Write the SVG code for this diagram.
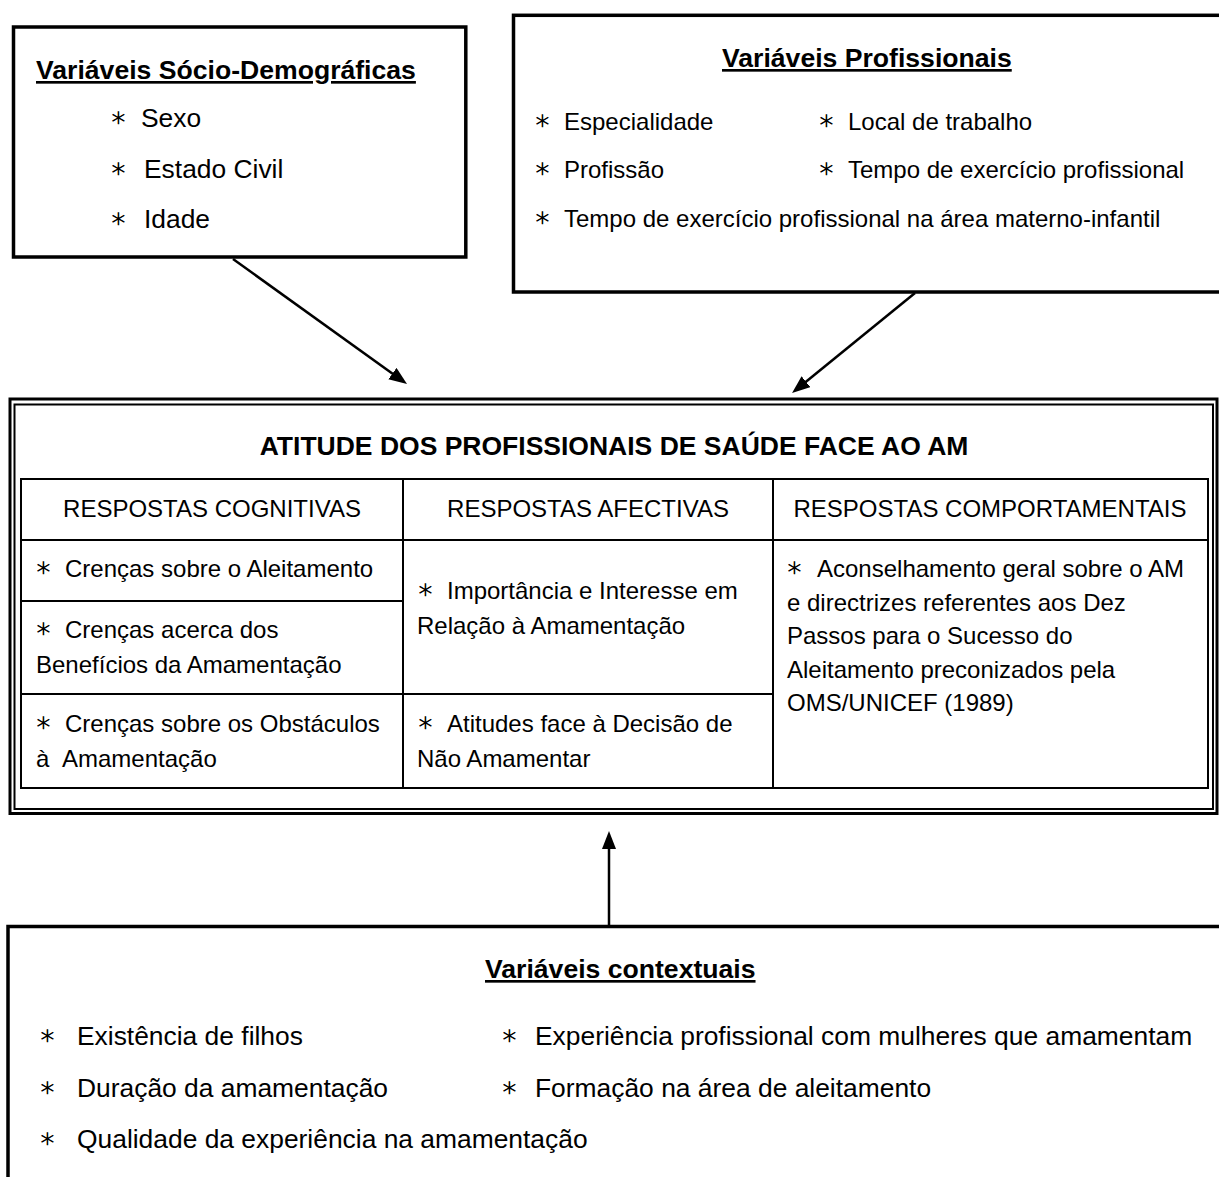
<svg xmlns="http://www.w3.org/2000/svg" width="1219" height="1177" viewBox="0 0 1219 1177">
<defs>
<style>
text{font-family:"Liberation Sans",Arial,sans-serif;fill:#000}
.t{font-weight:bold;font-size:26.6px;text-decoration:underline}
.h{font-weight:bold;font-size:26.5px}
.l{font-size:26.4px}
.m{font-size:24px}
.s{font-family:"DejaVu Sans",sans-serif;font-size:27px;font-weight:200;stroke:#000;stroke-width:0.7}
.box{fill:#fff;stroke:#000;stroke-width:3.5}
.ln{fill:none;stroke:#000;stroke-width:2}
.conn{stroke:#000;stroke-width:2.5;fill:none}
</style>
<marker id="ah" markerUnits="userSpaceOnUse" markerWidth="20" markerHeight="16" refX="8" refY="7" orient="auto">
<path d="M0,0 L18,7 L0,14 z" fill="#000"/>
</marker>
</defs>
<rect width="1219" height="1177" fill="#fff"/>

<g id="socio">
<rect class="box" x="13.5" y="27" width="452.3" height="230"/>
<text class="t" x="36" y="79">Variáveis Sócio-Demográficas</text>
<text class="s" x="110" y="126">∗</text><text class="l" x="141" y="127">Sexo</text>
<text class="s" x="110" y="177">∗</text><text class="l" x="144" y="178">Estado Civil</text>
<text class="s" x="110" y="227">∗</text><text class="l" x="144" y="228">Idade</text>
</g>

<g id="profissionais">
<rect class="box" x="513.5" y="15.3" width="720" height="276.7"/>
<text class="t" x="722" y="67">Variáveis Profissionais</text>
<text class="s" x="534" y="129">∗</text><text class="m" x="564" y="130">Especialidade</text>
<text class="s" x="818" y="129">∗</text><text class="m" x="848" y="130">Local de trabalho</text>
<text class="s" x="534" y="177">∗</text><text class="m" x="564" y="178">Profissão</text>
<text class="s" x="818" y="177">∗</text><text class="m" x="848" y="178">Tempo de exercício profissional</text>
<text class="s" x="534" y="226">∗</text><text class="m" x="564" y="227">Tempo de exercício profissional na área materno-infantil</text>
</g>

<g id="atitude">
<rect x="10" y="399" width="1207" height="414.5" fill="#fff" stroke="#000" stroke-width="3"/>
<rect x="14.5" y="404.5" width="1198.5" height="404.5" fill="none" stroke="#000" stroke-width="2"/>
<text class="h" x="614" y="455" text-anchor="middle">ATITUDE DOS PROFISSIONAIS DE SAÚDE FACE AO AM</text>
<rect class="ln" x="21" y="479" width="1187" height="309"/>
<line class="ln" x1="21" y1="540" x2="1208" y2="540"/>
<line class="ln" x1="21" y1="601" x2="403" y2="601"/>
<line class="ln" x1="21" y1="694" x2="773" y2="694"/>
<line class="ln" x1="403" y1="479" x2="403" y2="788"/>
<line class="ln" x1="773" y1="479" x2="773" y2="788"/>
<text class="m" x="212" y="517" text-anchor="middle">RESPOSTAS COGNITIVAS</text>
<text class="m" x="588" y="517" text-anchor="middle">RESPOSTAS AFECTIVAS</text>
<text class="m" x="990" y="517" text-anchor="middle">RESPOSTAS COMPORTAMENTAIS</text>

<text class="s" x="35" y="576">∗</text><text class="m" x="65" y="577">Crenças sobre o Aleitamento</text>
<text class="s" x="35" y="637">∗</text><text class="m" x="65" y="638">Crenças acerca dos</text>
<text class="m" x="36" y="673">Benefícios da Amamentação</text>
<text class="s" x="35" y="731">∗</text><text class="m" x="65" y="732">Crenças sobre os Obstáculos</text>
<text class="m" x="36" y="767">à</text><text class="m" x="62" y="767">Amamentação</text>

<text class="s" x="417" y="598">∗</text><text class="m" x="447" y="599">Importância e Interesse em</text>
<text class="m" x="417" y="634">Relação à Amamentação</text>
<text class="s" x="417" y="731">∗</text><text class="m" x="447" y="732">Atitudes face à Decisão de</text>
<text class="m" x="417" y="767">Não Amamentar</text>

<text class="s" x="786" y="576">∗</text><text class="m" x="817" y="577">Aconselhamento geral sobre o AM</text>
<text class="m" x="787" y="611">e directrizes referentes aos Dez</text>
<text class="m" x="787" y="644">Passos para o Sucesso do</text>
<text class="m" x="787" y="678">Aleitamento preconizados pela</text>
<text class="m" x="787" y="711">OMS/UNICEF (1989)</text>
</g>

<g id="contextuais">
<rect class="box" x="8" y="926.5" width="1230" height="270"/>
<text class="t" x="485" y="978">Variáveis contextuais</text>
<text class="s" x="39" y="1044">∗</text><text class="l" x="77" y="1045">Existência de filhos</text>
<text class="s" x="501" y="1044">∗</text><text class="l" x="535" y="1045">Experiência profissional com mulheres que amamentam</text>
<text class="s" x="39" y="1096">∗</text><text class="l" x="77" y="1097">Duração da amamentação</text>
<text class="s" x="501" y="1096">∗</text><text class="l" x="535" y="1097">Formação na área de aleitamento</text>
<text class="s" x="39" y="1147">∗</text><text class="l" x="77" y="1148">Qualidade da experiência na amamentação</text>
</g>

<g id="connectors">
<line class="conn" x1="233" y1="259" x2="398.9" y2="378.2" marker-end="url(#ah)"/>
<line class="conn" x1="915" y1="293" x2="799.8" y2="386.7" marker-end="url(#ah)"/>
<line class="conn" x1="609" y1="925" x2="609" y2="841" marker-end="url(#ah)"/>
</g>
</svg>
